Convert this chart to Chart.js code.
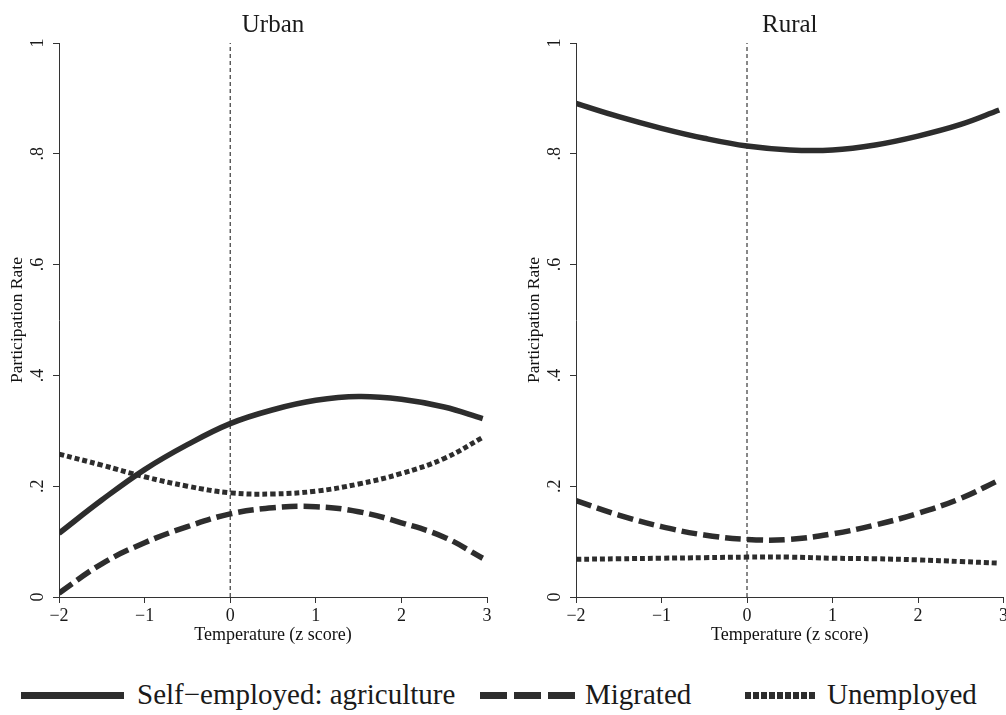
<!DOCTYPE html>
<html>
<head>
<meta charset="utf-8">
<script src="https://cdn.jsdelivr.net/npm/chart.js@4.4.0/dist/chart.umd.min.js"></script>
<style>
  html, body { margin: 0; padding: 0; background: #fff; overflow: hidden; }
  #page {
    position: relative; width: 1006px; height: 715px; overflow: hidden;
    font-family: "Liberation Serif", "Times New Roman", serif; color: #1a1a1a;
  }
  .panel { position: absolute; top: 0; }
  #urbanChart { left: 0; }
  #ruralChart { left: 505px; }
  .key { position: absolute; top: 692px; height: 7px; }
  .key-text { position: absolute; top: 676px; font-size: 29px; line-height: 36px; white-space: nowrap; }
  #keySolid { left: 21px; width: 103px; background: #2d2d2d; }
  #keyDash { left: 480px; width: 95px; background: repeating-linear-gradient(90deg, #2d2d2d 0 27px, transparent 27px 34px); }
  #keyDot { left: 745px; width: 72px; background: repeating-linear-gradient(90deg, #2d2d2d 0 6px, transparent 6px 8px); }
</style>
</head>
<body>
<div id="page">
  <canvas id="urbanChart" class="panel" width="505" height="660"></canvas>
  <canvas id="ruralChart" class="panel" width="505" height="660"></canvas>

  <div id="keySolid" class="key"></div>
  <div class="key-text" style="left:137px">Self−employed: agriculture</div>
  <div id="keyDash" class="key"></div>
  <div class="key-text" style="left:585px">Migrated</div>
  <div id="keyDot" class="key"></div>
  <div class="key-text" style="left:827px">Unemployed</div>
</div>

<script>
// temperature (z score) sample points
const tempZ = [-2, -1.5, -1, -0.5, 0, 0.5, 1, 1.5, 2, 2.5, 2.95];

// Urban panel
const urbanSelfEmployed = [0.115, 0.175, 0.23, 0.275, 0.313, 0.338, 0.355, 0.362, 0.357, 0.343, 0.322];
const urbanMigrated     = [0.007, 0.06, 0.098, 0.127, 0.15, 0.161, 0.163, 0.154, 0.134, 0.108, 0.07];
const urbanUnemployed   = [0.258, 0.238, 0.217, 0.2, 0.188, 0.186, 0.191, 0.204, 0.223, 0.25, 0.288];

// Rural panel
const ruralSelfEmployed = [0.891, 0.867, 0.846, 0.828, 0.814, 0.807, 0.807, 0.816, 0.832, 0.853, 0.879];
const ruralMigrated     = [0.174, 0.148, 0.127, 0.112, 0.104, 0.104, 0.114, 0.13, 0.151, 0.178, 0.211];
const ruralUnemployed   = [0.068, 0.069, 0.07, 0.071, 0.072, 0.072, 0.07, 0.069, 0.067, 0.064, 0.061];

// reference line at z = 0
const refLineX = [0, 0];
const refLineY = [0, 1];

const FONT = '"Liberation Serif", "Times New Roman", serif';
const INK = '#2d2d2d';
const AXIS = '#333';
const TEXT = '#1a1a1a';

function toPoints(xs, ys) {
  return xs.map((x, i) => ({ x: x, y: ys[i] }));
}

function curve(label, values, dash, width) {
  return {
    label: label,
    data: toPoints(tempZ, values),
    borderColor: INK,
    borderWidth: width,
    borderDash: dash,
    borderCapStyle: 'butt',
    pointRadius: 0,
    fill: false,
    tension: 0.4
  };
}

function yTick(v) {
  const r = Math.round(v * 10) / 10;
  if (r === 0) return '0';
  if (r === 1) return '1';
  return String(r).replace('0.', '.');
}

function xTick(v) {
  return v < 0 ? '−' + Math.abs(v) : String(v);
}

function makePanel(canvasId, title, selfVals, migVals, unempVals, padLeft, padRight) {
  const ctx = document.getElementById(canvasId).getContext('2d');
  return new Chart(ctx, {
    type: 'line',
    data: {
      datasets: [
        curve('Self−employed: agriculture', selfVals, [], 5.5),
        curve('Migrated', migVals, [16, 6], 5.5),
        curve('Unemployed', unempVals, [5, 3], 5),
        {
          label: 'z = 0',
          data: toPoints(refLineX, refLineY),
          borderColor: '#111',
          borderWidth: 1,
          borderDash: [4, 3],
          pointRadius: 0,
          tension: 0
        }
      ]
    },
    options: {
      responsive: false,
      animation: false,
      layout: { padding: { left: padLeft, right: padRight, top: 0, bottom: 13 } },
      plugins: {
        legend: { display: false },
        tooltip: { enabled: false },
        title: {
          display: true,
          text: title,
          fullSize: false,
          color: TEXT,
          font: { family: FONT, size: 25, weight: 'normal' },
          padding: { top: 10, bottom: 3 }
        }
      },
      scales: {
        x: {
          type: 'linear',
          min: -2,
          max: 3,
          afterFit: (scale) => { scale.height = 50; },
          ticks: {
            stepSize: 1,
            maxRotation: 0,
            padding: 2,
            color: TEXT,
            font: { family: FONT, size: 18 },
            callback: xTick
          },
          grid: { drawOnChartArea: false, drawTicks: true, tickLength: 6, color: AXIS },
          border: { color: AXIS, width: 1 },
          title: {
            display: true,
            text: 'Temperature (z score)',
            color: '#111',
            font: { family: FONT, size: 18 },
            padding: { top: 0, bottom: 1 }
          }
        },
        y: {
          type: 'linear',
          min: 0,
          max: 1,
          afterFit: (scale) => { scale.width = 59; },
          ticks: {
            stepSize: 0.2,
            minRotation: 90,
            maxRotation: 90,
            crossAlign: 'center',
            padding: 8,
            color: TEXT,
            font: { family: FONT, size: 18 },
            callback: yTick
          },
          grid: { drawOnChartArea: false, drawTicks: true, tickLength: 6, color: AXIS },
          border: { color: AXIS, width: 1 },
          title: {
            display: true,
            text: 'Participation Rate',
            color: '#111',
            font: { family: FONT, size: 17.5 },
            padding: { top: 7, bottom: 0 }
          }
        }
      }
    }
  });
}

makePanel('urbanChart', 'Urban', urbanSelfEmployed, urbanMigrated, urbanUnemployed, 0, 18);
makePanel('ruralChart', 'Rural', ruralSelfEmployed, ruralMigrated, ruralUnemployed, 12, 3);
</script>
</body>
</html>
